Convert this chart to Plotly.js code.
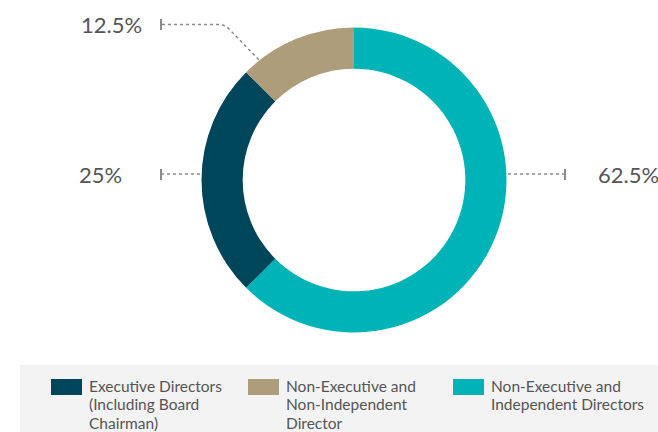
<!DOCTYPE html>
<html>
<head>
<meta charset="utf-8">
<script src="https://cdn.plot.ly/plotly-3.0.1.min.js"></script>
<style>html,body{margin:0;padding:0;background:#fff;}#chart{width:658px;height:432px;}</style>
</head>
<body>
<div id="chart"></div>
<script>
var labels = ["Non-Executive and Independent Directors", "Executive Directors (Including Board Chairman)", "Non-Executive and Non-Independent Director"];
var legendLines = [
  ["Non-Executive and", "Independent Directors"],
  ["Executive Directors", "(Including Board", "Chairman)"],
  ["Non-Executive and", "Non-Independent", "Director"]
];
var values = [62.5, 25, 12.5];
var valueLabels = ["62.5%", "25%", "12.5%"];
var colors = ["#00b3b6", "#00465b", "#ae9d7a"];

var W = 658, H = 432;
function px(x){return x / W;}
function py(y){return 1 - y / H;}

var trace = {
  type: "pie",
  labels: labels,
  values: values,
  hole: 0.73,
  sort: false,
  direction: "clockwise",
  rotation: 0,
  marker: {colors: colors, line: {width: 0}},
  textinfo: "none",
  hoverinfo: "label+percent",
  showlegend: false,
  domain: {x: [px(201.5), px(506.5)], y: [py(333), py(27)]}
};

var lineStyle = {color: "#8a8a8a", width: 1.5, dash: "dot"};
var tickStyle = {color: "#8a8a8a", width: 2};
var shapes = [
  {type: "rect", xref: "paper", yref: "paper", x0: px(20), x1: 1, y0: 0, y1: py(365), fillcolor: "#f3f3f3", line: {width: 0}, layer: "below"},
  {type: "line", xref: "paper", yref: "paper", x0: px(508), x1: px(565), y0: py(174), y1: py(174), line: lineStyle},
  {type: "line", xref: "paper", yref: "paper", x0: px(565), x1: px(565), y0: py(169), y1: py(180), line: tickStyle},
  {type: "line", xref: "paper", yref: "paper", x0: px(161), x1: px(201), y0: py(174), y1: py(174), line: lineStyle},
  {type: "line", xref: "paper", yref: "paper", x0: px(161), x1: px(161), y0: py(169), y1: py(180), line: tickStyle},
  {type: "path", xref: "paper", yref: "paper", path: "M " + px(162) + "," + py(24.5) + " L " + px(220) + "," + py(24.5) + " Q " + px(226) + "," + py(25) + " " + px(230) + "," + py(30) + " L " + px(259) + "," + py(60), line: lineStyle},
  {type: "line", xref: "paper", yref: "paper", x0: px(161), x1: px(161), y0: py(19), y1: py(30), line: tickStyle}
];

var labelFont = {family: "Lato, 'Open Sans', sans-serif", size: 22, color: "#555555"};
var annotations = [
  {xref: "paper", yref: "paper", x: px(596), y: py(174), xanchor: "left", yanchor: "middle", text: valueLabels[0], showarrow: false, font: labelFont},
  {xref: "paper", yref: "paper", x: px(124), y: py(174), xanchor: "right", yanchor: "middle", text: valueLabels[1], showarrow: false, font: labelFont},
  {xref: "paper", yref: "paper", x: px(144), y: py(25), xanchor: "right", yanchor: "middle", text: valueLabels[2], showarrow: false, font: labelFont}
];

var legendOrder = [1, 2, 0];
var swatchX = [51, 248, 453];
var legendFont = {family: "Lato, 'Open Sans', sans-serif", size: 15.5, color: "#555555"};
legendOrder.forEach(function(idx, i){
  var x0 = swatchX[i];
  shapes.push({type: "rect", xref: "paper", yref: "paper", x0: px(x0), x1: px(x0 + 31), y0: py(395), y1: py(379), fillcolor: colors[idx], line: {width: 0}});
  legendLines[idx].forEach(function(line, j){
    annotations.push({xref: "paper", yref: "paper", x: px(x0 + 36), y: py(385.5 + 18.5 * j), xanchor: "left", yanchor: "middle", align: "left", text: line, showarrow: false, font: legendFont});
  });
});

var layout = {
  width: W, height: H,
  margin: {l: 0, r: 0, t: 0, b: 0},
  paper_bgcolor: "#ffffff",
  showlegend: false,
  shapes: shapes,
  annotations: annotations
};

Plotly.newPlot("chart", [trace], layout, {displayModeBar: false, staticPlot: true});
</script>
</body>
</html>
